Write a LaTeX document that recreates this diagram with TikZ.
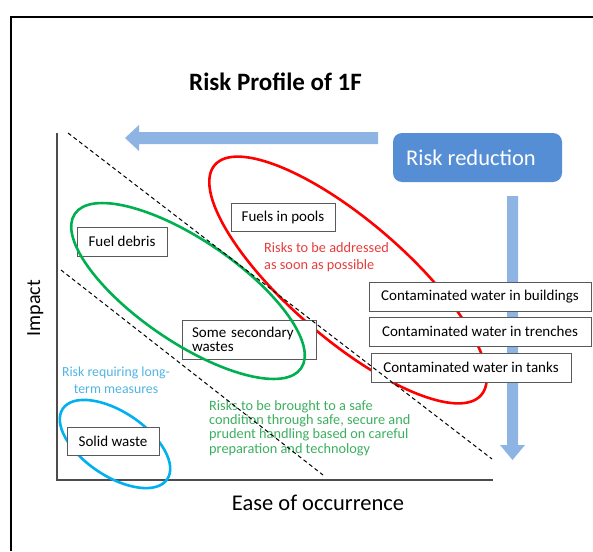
\documentclass[tikz,border=0pt]{standalone}
\usepackage{fontspec}
\setmainfont{Carlito}
\begin{document}
\begin{tikzpicture}[x=1pt,y=-1pt,
  wbox/.style={draw=black!65,fill=white,line width=0.8pt,inner sep=0pt,font=\fontsize{15}{17}\selectfont},
  dline/.style={black,line width=1pt,dash pattern=on 4pt off 3pt},
  ell/.style={line width=2.6pt},
  axisline/.style={draw=black!70,line width=1.6pt}]
\definecolor{arrowblue}{RGB}{141,180,226}
\definecolor{boxblue}{RGB}{85,142,213}
\definecolor{redtxt}{RGB}{232,60,60}
\definecolor{bluetxt}{RGB}{80,180,225}
\definecolor{greentxt}{RGB}{60,175,95}
\definecolor{ellgreen}{RGB}{0,176,80}
\definecolor{ellblue}{RGB}{0,176,240}
\useasboundingbox (0,0) rectangle (593,551);
% frame
\draw[black,line width=1.6pt] (11,551) -- (11,17) -- (593,17);
% title
\node[anchor=base,inner sep=0pt,font=\fontsize{25}{28}\selectfont\bfseries] (title) at (275.5,90) {Risk Profile of 1F};
% left arrow
\fill[arrowblue] (378,132) -- (139,132) -- (139,125) -- (125,138) -- (139,151) -- (139,144) -- (378,144) -- cycle;
% risk reduction box
\node[fill=boxblue,rounded corners=9pt,minimum width=169pt,minimum height=49pt,inner sep=0pt,text=white,font=\fontsize{22.5}{25}\selectfont] (rr) at (477.5,157.5) {\hspace*{-13pt}Risk reduction};
% down arrow
\fill[arrowblue] (507,196) -- (518,196) -- (518,445) -- (525,445) -- (512.5,460) -- (500,445) -- (507,445) -- cycle;
% axes
\coordinate (ytop) at (57,133);
\coordinate (orig) at (57,480);
\coordinate (xend) at (493,480);
\draw[axisline] (ytop) -- (orig) -- (xend);
\node[rotate=90,anchor=base,inner sep=0pt,font=\fontsize{20}{22}\selectfont] (imp) at (40,308) {Impact};
\node[anchor=base,inner sep=0pt,font=\fontsize{22.5}{25}\selectfont] (ease) at (318,510) {Ease of occurrence};
% red ellipse
\draw[red,ell] (348,280) ellipse [x radius=176pt,y radius=59pt,rotate=-40.8];
% blue ellipse
\draw[ellblue,ell] (115,444) ellipse [x radius=63pt,y radius=32pt,rotate=-34];
% boxes
\node[wbox,minimum width=104pt,minimum height=28pt] (pools) at (283,217) {Fuels in pools};
\node[wbox,minimum width=90pt,minimum height=29pt] (debris) at (122,241.5) {Fuel debris};
\node[wbox,minimum width=134pt,minimum height=39pt,text width=114pt,align=left,inner xsep=10pt,font=\fontsize{15}{14}\selectfont] (sec) at (249,339.5) {Some secondary\\wastes};
\node[wbox,minimum width=92pt,minimum height=28pt] (solid) at (113,441) {Solid waste};
\node[wbox,minimum width=222pt,minimum height=29pt] (bld) at (480,296.5) {Contaminated water in buildings};
\node[wbox,minimum width=222pt,minimum height=29pt] (trn) at (480,331.5) {Contaminated water in trenches};
\node[wbox,minimum width=200pt,minimum height=29pt] (tnk) at (471,367.5) {Contaminated water in tanks};
% green ellipse
\draw[ellgreen,ell] (188,291) ellipse [x radius=137pt,y radius=51pt,rotate=-34.3];
% labels
\node[anchor=base west,align=left,text=redtxt,font=\fontsize{14.3}{16.5}\selectfont,inner sep=0pt] (redlbl) at (264,269) {Risks to be addressed\\as soon as possible};
\node[anchor=base,align=center,text=bluetxt,font=\fontsize{13.8}{17}\selectfont,inner sep=0pt] (bluelbl) at (116,393) {Risk requiring long{-}\\term measures};
\node[anchor=base west,align=left,text=greentxt,font=\fontsize{14.3}{14.3}\selectfont,inner sep=0pt] (greenlbl) at (209,453) {Risks to be brought to a safe\\condition through safe, secure and\\prudent handling based on careful\\preparation and technology};
% dashed lines
\coordinate (d1a) at (68,133);
\coordinate (d1b) at (492,459);
\coordinate (d2a) at (61,270);
\coordinate (d2b) at (323,475);
\draw[dline] (d1a) -- (d1b);
\draw[dline] (d2a) -- (d2b);
\end{tikzpicture}
\end{document}
